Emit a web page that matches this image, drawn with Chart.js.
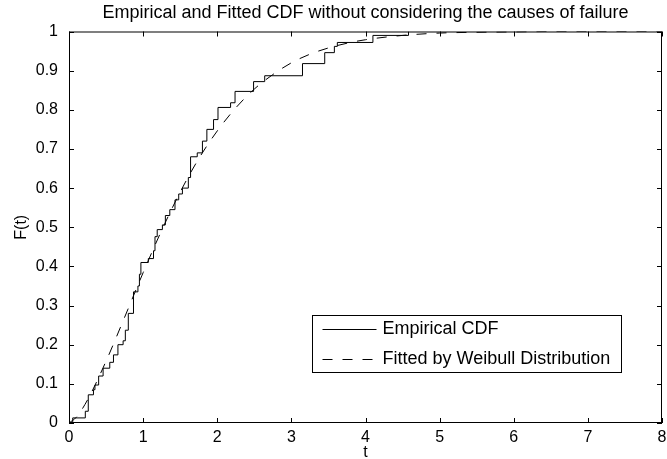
<!DOCTYPE html>
<html>
<head>
<meta charset="utf-8">
<script src="https://cdn.jsdelivr.net/npm/chart.js@4.4.1/dist/chart.umd.min.js"></script>
<style>
  body { margin: 0; background: #fff; }
  #wrap { width: 667px; height: 459px; }
</style>
</head>
<body>
<div id="wrap"><canvas id="cdfChart" width="667" height="459"></canvas></div>
<script>
// Empirical CDF: step positions (t) and the level reached at each step
const empT = [0, 0.05, 0.22, 0.26, 0.33, 0.35, 0.40, 0.46, 0.55, 0.60, 0.66, 0.73, 0.76, 0.80, 0.87,
              0.93, 0.95, 0.97, 1.07, 1.14, 1.16, 1.19, 1.26, 1.30, 1.36, 1.43, 1.48, 1.53, 1.61, 1.64,
              1.73, 1.80, 1.86, 1.95, 2.01, 2.18, 2.24, 2.49, 2.64, 3.15, 3.45, 3.58, 3.62, 4.10, 4.58];
const empF = [0, 0.013, 0.03, 0.072, 0.085, 0.097, 0.12, 0.14, 0.155, 0.174, 0.20, 0.21, 0.237, 0.28, 0.335,
              0.35, 0.38, 0.41, 0.42, 0.44, 0.476, 0.494, 0.506, 0.53, 0.545, 0.57, 0.585, 0.60, 0.627, 0.68,
              0.69, 0.72, 0.75, 0.775, 0.806, 0.818, 0.847, 0.872, 0.887, 0.918, 0.946, 0.962, 0.972, 0.99, 1.0];

// Fitted Weibull curve
const fitT = [0, 0.1, 0.25, 0.5, 0.75, 1, 1.25, 1.5, 1.75, 2, 2.25, 2.5, 2.75, 3, 3.25, 3.5, 3.75, 4, 4.5, 5, 5.5, 6, 6.5, 7, 8];
const fitF = [0, 0.015, 0.059, 0.158, 0.27, 0.384, 0.492, 0.59, 0.675, 0.746, 0.805, 0.853, 0.89, 0.92, 0.942,
              0.958, 0.97, 0.979, 0.99, 0.996, 0.998, 0.999, 1, 1, 1];

const seriesNames = ['Empirical CDF', 'Fitted by Weibull Distribution'];
const chartTitle = 'Empirical and Fitted CDF without considering the causes of failure';

const FONT = '"Liberation Sans", Arial, Helvetica, sans-serif';
Chart.defaults.font.family = FONT;
Chart.defaults.font.size = 16;
Chart.defaults.color = '#000';

// box around the axes, inward ticks on all four sides, and the boxed legend
const matlabFrame = {
    id: 'matlabFrame',
    afterDraw(chart) {
        const { ctx, chartArea: a, scales: { x, y } } = chart;
        const tick = 5;
        ctx.save();
        ctx.strokeStyle = '#000';
        ctx.lineWidth = 1;
        ctx.strokeRect(a.left + 0.5, a.top + 0.5, a.right - a.left - 1, a.bottom - a.top - 1);

        ctx.beginPath();
        x.ticks.forEach(t => {
            const px = Math.round(x.getPixelForValue(t.value)) + 0.5;
            ctx.moveTo(px, a.bottom); ctx.lineTo(px, a.bottom - tick);
            ctx.moveTo(px, a.top); ctx.lineTo(px, a.top + tick);
        });
        y.ticks.forEach(t => {
            const py = Math.round(y.getPixelForValue(t.value)) + 0.5;
            ctx.moveTo(a.left, py); ctx.lineTo(a.left + tick, py);
            ctx.moveTo(a.right, py); ctx.lineTo(a.right - tick, py);
        });
        ctx.stroke();

        // legend
        const lx = 312.5, ly = 315.5, lw = 309, lh = 57;
        ctx.fillStyle = '#fff';
        ctx.fillRect(lx, ly, lw, lh);
        ctx.strokeRect(lx, ly, lw, lh);
        const rows = [ly + 14, ly + 44];
        chart.data.datasets.forEach((ds, i) => {
            ctx.beginPath();
            ctx.setLineDash(ds.borderDash || []);
            ctx.moveTo(lx + 10, rows[i]);
            ctx.lineTo(lx + 64, rows[i]);
            ctx.stroke();
            ctx.setLineDash([]);
            ctx.fillStyle = '#000';
            ctx.font = '18px ' + FONT;
            ctx.textBaseline = 'middle';
            ctx.fillText(ds.label, lx + 70, rows[i]);
        });
        ctx.restore();
    }
};

new Chart(document.getElementById('cdfChart'), {
    type: 'line',
    data: {
        datasets: [
            {
                label: seriesNames[0],
                data: empT.map((t, i) => ({ x: t, y: empF[i] })),
                borderColor: '#000',
                borderWidth: 1,
                pointRadius: 0,
                stepped: true,
                fill: false
            },
            {
                label: seriesNames[1],
                data: fitT.map((t, i) => ({ x: t, y: fitF[i] })),
                borderColor: '#000',
                borderWidth: 1,
                borderDash: [10, 10],
                pointRadius: 0,
                cubicInterpolationMode: 'monotone',
                fill: false
            }
        ]
    },
    options: {
        responsive: false,
        animation: false,
        devicePixelRatio: 1,
        layout: { padding: { left: 0, right: 5, top: 0, bottom: 0 } },
        plugins: {
            legend: { display: false },
            tooltip: { enabled: false },
            title: {
                display: true,
                fullSize: false,
                text: chartTitle,
                font: { size: 18, weight: 'normal' },
                padding: { top: 2, bottom: 7.9 }
            }
        },
        scales: {
            x: {
                type: 'linear',
                min: 0,
                max: 8,
                grid: { display: false, drawTicks: false },
                border: { display: false },
                ticks: { stepSize: 1, padding: 5, maxRotation: 0 },
                title: { display: true, text: 't', padding: { top: 0, bottom: -3 } },
                afterFit(scale) {
                    scale.height = 36;
                    scale.paddingLeft = 0;
                    scale.paddingRight = 0;
                }
            },
            y: {
                min: 0,
                max: 1,
                grid: { display: false, drawTicks: false },
                border: { display: false },
                ticks: {
                    stepSize: 0.1,
                    padding: 11,
                    callback: v => String(+v.toFixed(1))
                },
                title: { display: true, text: 'F(t)', padding: { top: 12, bottom: 0 } },
                afterFit(scale) {
                    scale.width = 69;
                    scale.paddingTop = 0;
                    scale.paddingBottom = 0;
                }
            }
        }
    },
    plugins: [matlabFrame]
});
</script>
</body>
</html>
